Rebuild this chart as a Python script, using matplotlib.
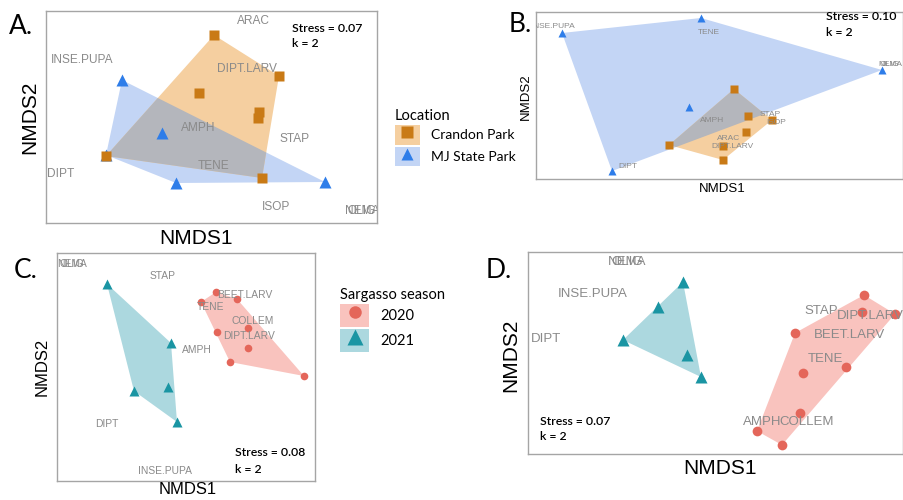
import numpy as np
import matplotlib
matplotlib.use("Agg")
import matplotlib.pyplot as plt
from matplotlib.patches import Polygon, Patch
from matplotlib.lines import Line2D

# ---- data: NMDS scores (panel units, origin = lower-left of each frame)
# Panel A
a_crandon_x = [168, 233, 153, 213, 212, 60, 216]
a_crandon_y = [188, 147, 130, 111, 105, 67, 45]
a_mj_x = [76, 116, 60, 130, 279]
a_mj_y = [143, 90, 68, 40, 41]
a_species = ["ARAC", "INSE.PUPA", "DIPT.LARV", "AMPH", "STAP", "DIPT", "TENE", "ISOP", "NEMA", "OLIG"]
a_sp_x = [207, 36, 201, 152, 249, 15, 167, 230, 316, 316]
a_sp_y = [202, 163, 154, 95, 84, 49, 57, 16, 12, 12]

# Panel B
b_mj_x = [26, 165, 346, 153, 76]
b_mj_y = [146, 161, 109, 72, 8]
b_crandon_x = [198, 212, 236, 210, 133, 187, 187]
b_crandon_y = [90, 63, 59, 47, 34, 33, 19]
b_species = ["INSE.PUPA", "TENE", "NEMA", "OLIG", "STAP", "ISOP", "AMPH", "ARAC", "DIPT.LARV", "DIPT"]
b_sp_x = [17, 173, 354, 354, 234, 240, 176, 193, 196, 92]
b_sp_y = [153, 147, 114, 114, 65, 57, 58, 41, 32, 12]

# Panel C
c_2021_x = [50, 114, 77, 111, 120]
c_2021_y = [197, 138, 90, 94, 59]
c_2020_x = [159, 180, 144, 191, 160, 191, 173, 247]
c_2020_y = [189, 182, 179, 153, 149, 133, 119, 105]
c_species = ["NEMA", "OLIG", "STAP", "BEET.LARV", "TENE", "COLLEM", "DIPT.LARV", "AMPH", "DIPT", "INSE.PUPA"]
c_sp_x = [15, 15, 106, 188, 154, 196, 192, 140, 50, 108]
c_sp_y = [217, 217, 205, 186, 174, 160, 145, 131, 57, 10]

# Panel D
d_2021_x = [155, 130, 95, 159, 173]
d_2021_y = [172, 147, 114, 99, 77]
d_2020_x = [336, 334, 367, 267, 318, 275, 272, 229, 254]
d_2020_y = [159, 142, 140, 121, 87, 81, 41, 23, 9]
d_species = ["NEMA", "OLIG", "INSE.PUPA", "DIPT", "STAP", "DIPT.LARV", "BEET.LARV", "TENE", "AMPH", "COLLEM"]
d_sp_x = [99, 99, 65, 18, 293, 342, 322, 297, 234, 279]
d_sp_y = [192, 192, 160, 115, 143, 138, 119, 95, 32, 32]

stress = ["0.07", "0.10", "0.08", "0.07"]

# colours
orange, orange_fill = "#c97a16", "#f5cfa0"
blue, blue_fill = "#2e7de9", "#c3d5f5"
overlap = "#b4b6bc"
red, red_fill = "#e4665a", "#f9c3be"
teal, teal_fill = "#1a95a3", "#acd8df"
grey_txt = "#8a8a8a"

W, H = 904, 500
fig = plt.figure(figsize=(W / 100, H / 100), dpi=100)


def hull(x, y):
    pts = sorted(set(zip(x, y)))
    def cross(o, a, b):
        return (a[0] - o[0]) * (b[1] - o[1]) - (a[1] - o[1]) * (b[0] - o[0])
    lower, upper = [], []
    for p in pts:
        while len(lower) >= 2 and cross(lower[-2], lower[-1], p) <= 0:
            lower.pop()
        lower.append(p)
    for p in reversed(pts):
        while len(upper) >= 2 and cross(upper[-2], upper[-1], p) <= 0:
            upper.pop()
        upper.append(p)
    return np.array(lower[:-1] + upper[:-1])


def panel(box):
    x0, y0, x1, y1 = box
    ax = fig.add_axes([x0 / W, 1 - y1 / H, (x1 - x0) / W, (y1 - y0) / H])
    ax.set_xlim(0, x1 - x0)
    ax.set_ylim(0, y1 - y0)
    ax.set_xticks([])
    ax.set_yticks([])
    for s in ax.spines.values():
        s.set_color("#a5a5a5")
        s.set_linewidth(1.0)
    return ax


def fig_text(x, y, s, **kw):
    fig.text(x / W, 1 - y / H, s, **kw)


def species(ax, names, xs, ys, size):
    for n, x, y in zip(names, xs, ys):
        ax.text(x, y, n, ha="center", va="center", fontsize=size, color=grey_txt,
                family="Liberation Sans", clip_on=True, zorder=5)


def groups(ax, g1, g2, overlap_fill=False):
    # g = (x, y, colour, fill, marker, size)
    polys = []
    for x, y, c, f, m, ms in (g1, g2):
        p = Polygon(hull(x, y), closed=True, facecolor=f, edgecolor="none", zorder=1)
        ax.add_patch(p)
        polys.append(p)
    if overlap_fill:
        g = Polygon(hull(g1[0], g1[1]), closed=True, facecolor=overlap, edgecolor="none", zorder=2)
        ax.add_patch(g)
        g.set_clip_path(polys[1])
    for x, y, c, f, m, ms in (g1, g2):
        ax.plot(x, y, ls="", marker=m, ms=ms, color=c, mec="none", zorder=4)


def stress_txt(x, y, y2, val, size=8.8):
    fig_text(x, y, f"Stress = {val}", fontsize=size, family="Lato", va="baseline", weight="semibold")
    fig_text(x, y2, "k = 2", fontsize=size, family="Lato", va="baseline", weight="semibold")


# ---- Panel A
axA = panel((46, 11, 377, 223))
groups(axA, (a_mj_x, a_mj_y, blue, blue_fill, "^", 8.5),
       (a_crandon_x, a_crandon_y, orange, orange_fill, "s", 7.5), overlap_fill=True)
species(axA, a_species, a_sp_x, a_sp_y, 8.6)
stress_txt(292, 32, 47, stress[0])
fig_text(21, 26, "A.", fontsize=19, family="Lato", ha="center", va="center")
fig_text(30, 117, "NMDS2", fontsize=15, family="Liberation Sans", rotation=90, ha="center", va="center")
fig_text(196, 238, "NMDS1", fontsize=15, family="Liberation Sans", ha="center", va="center")

# ---- Panel B
axB = panel((536, 12, 903, 179))
groups(axB, (b_mj_x, b_mj_y, blue, blue_fill, "^", 6),
       (b_crandon_x, b_crandon_y, orange, orange_fill, "s", 5.2), overlap_fill=True)
species(axB, b_species, b_sp_x, b_sp_y, 6)
stress_txt(826, 20, 36, stress[1])
fig_text(520, 25, "B.", fontsize=19, family="Lato", ha="center", va="center")
fig_text(526, 97, "NMDS2", fontsize=9.5, family="Liberation Sans", rotation=90, ha="center", va="center")
fig_text(722, 189, "NMDS1", fontsize=9.5, family="Liberation Sans", ha="center", va="center")

# ---- Panel C
axC = panel((57, 253, 315, 481))
groups(axC, (c_2021_x, c_2021_y, teal, teal_fill, "^", 7),
       (c_2020_x, c_2020_y, red, red_fill, "o", 5.5))
species(axC, c_species, c_sp_x, c_sp_y, 7.4)
stress_txt(235, 456, 473, stress[2])
fig_text(26, 270, "C.", fontsize=19, family="Lato", ha="center", va="center")
fig_text(42, 367, "NMDS2", fontsize=12, family="Liberation Sans", rotation=90, ha="center", va="center")
fig_text(188, 490, "NMDS1", fontsize=12, family="Liberation Sans", ha="center", va="center")

# ---- Panel D
axD = panel((528, 252, 903, 454))
groups(axD, (d_2021_x, d_2021_y, teal, teal_fill, "^", 8.5),
       (d_2020_x, d_2020_y, red, red_fill, "o", 7))
species(axD, d_species, d_sp_x, d_sp_y, 9.5)
stress_txt(540, 425, 440, stress[3])
fig_text(499, 270, "D.", fontsize=19, family="Lato", ha="center", va="center")
fig_text(511, 355, "NMDS2", fontsize=15, family="Liberation Sans", rotation=90, ha="center", va="center")
fig_text(720, 468, "NMDS1", fontsize=15, family="Liberation Sans", ha="center", va="center")

# ---- legends
loc_handles = [(Patch(facecolor=orange_fill, edgecolor="none"),
                Line2D([], [], ls="", marker="s", ms=8, color=orange, mec="none")),
               (Patch(facecolor=blue_fill, edgecolor="none"),
                Line2D([], [], ls="", marker="^", ms=9, color=blue, mec="none"))]
fig.legend(loc_handles, ["Crandon Park", "MJ State Park"], title="Location",
           loc="upper left", bbox_to_anchor=(388 / W, 1 - 102 / H), frameon=False,
           borderpad=0, handlelength=1.8, handleheight=1.8, handletextpad=0.8,
           labelspacing=0.15, alignment="left",
           prop={"family": "Lato", "size": 10}, title_fontproperties={"family": "Lato", "size": 10.5})

season_handles = [(Patch(facecolor=red_fill, edgecolor="none"),
                   Line2D([], [], ls="", marker="o", ms=9, color=red, mec="none")),
                  (Patch(facecolor=teal_fill, edgecolor="none"),
                   Line2D([], [], ls="", marker="^", ms=11, color=teal, mec="none"))]
fig.legend(season_handles, ["2020", "2021"], title="Sargasso season",
           loc="upper left", bbox_to_anchor=(333 / W, 1 - 281 / H), frameon=False,
           borderpad=0, handlelength=2.0, handleheight=2.0, handletextpad=0.75,
           labelspacing=0.15, alignment="left",
           prop={"family": "Lato", "size": 10.5}, title_fontproperties={"family": "Lato", "size": 10.5})

fig.savefig("out.png", dpi=100)
